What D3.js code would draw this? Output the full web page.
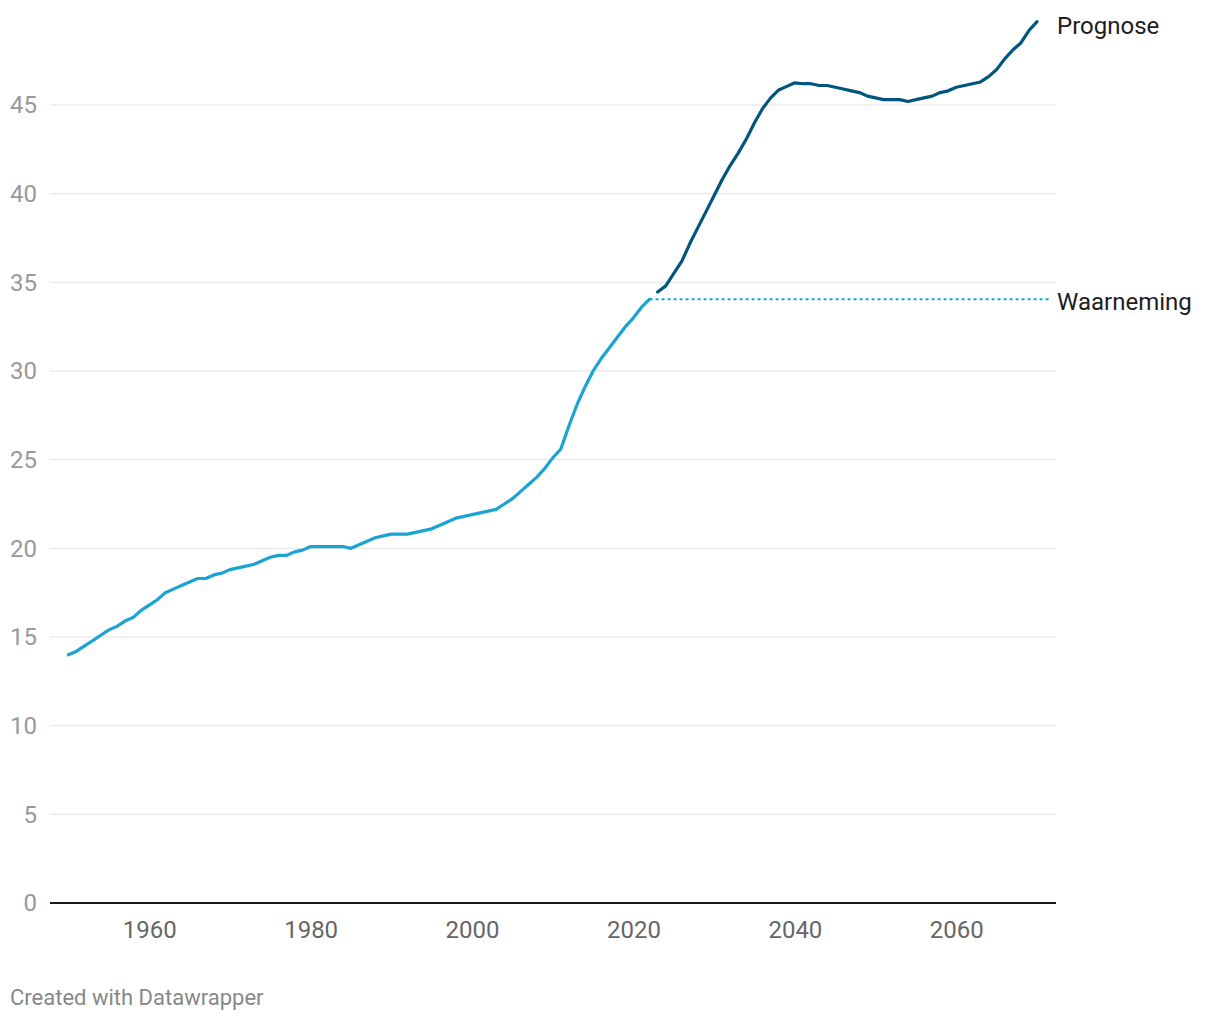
<!DOCTYPE html>
<html><head><meta charset="utf-8">
<script src="https://cdn.jsdelivr.net/npm/d3@7"></script>
<style>
html,body{margin:0;padding:0;background:#fff;}
text{font-family:Roboto,"Noto Sans",sans-serif;}
</style></head>
<body><svg id="c" width="1220" height="1020"></svg>
<script>
const obsYears = d3.range(1950, 2023);
const obsValues = [14.0,14.2,14.5,14.8,15.1,15.4,15.6,15.9,16.1,16.5,
16.8,17.1,17.5,17.7,17.9,18.1,18.3,18.3,18.5,18.6,
18.8,18.9,19.0,19.1,19.3,19.5,19.6,19.6,19.8,19.9,
20.1,20.1,20.1,20.1,20.1,20.0,20.2,20.4,20.6,20.7,
20.8,20.8,20.8,20.9,21.0,21.1,21.3,21.5,21.7,21.8,
21.9,22.0,22.1,22.2,22.5,22.8,23.2,23.6,24.0,24.5,
25.1,25.6,26.9,28.1,29.1,30.0,30.7,31.3,31.9,32.5,
33.0,33.6,34.05];
const progYears = d3.range(2023, 2071);
const progValues = [34.45,34.8,35.5,36.2,37.2,38.1,39.0,39.9,40.8,41.6,
42.3,43.1,44.0,44.8,45.4,45.85,46.05,46.25,46.2,46.2,
46.1,46.1,46.0,45.9,45.8,45.7,45.5,45.4,45.3,45.3,
45.3,45.2,45.3,45.4,45.5,45.7,45.8,46.0,46.1,46.2,
46.3,46.6,47.0,47.6,48.1,48.5,49.2,49.7];
const yTicks = [0,5,10,15,20,25,30,35,40,45];
const xTicks = [1960,1980,2000,2020,2040,2060];
const labels = {obs: "Waarneming", prog: "Prognose"};
const footer = "Created with Datawrapper";

const svg = d3.select("#c");
const left = 50, right = 1056;
const x = d3.scaleLinear().domain([1950, 2070]).range([68.5, 1037]);
const y = d3.scaleLinear().domain([0, 45]).range([903, 105]);

// gridlines
svg.append("g").selectAll("line").data(yTicks.filter(d=>d>0)).join("line")
  .attr("x1", left).attr("x2", right)
  .attr("y1", d=>y(d)).attr("y2", d=>y(d))
  .attr("stroke", "#e2e2e2").attr("stroke-width", 1);

// y labels
svg.append("g").selectAll("text").data(yTicks).join("text")
  .attr("x", 37).attr("y", d=>y(d)).attr("dy", "0.35em")
  .attr("text-anchor", "end").attr("fill", "#999")
  .style("font-size", "24px").text(d=>d);

// x axis
const xAxis = d3.axisBottom(x).tickValues(xTicks).tickSize(0).tickPadding(18).tickFormat(d3.format("d"));
const gx = svg.append("g").attr("transform", `translate(0,${y(0)})`).call(xAxis);
gx.select(".domain").remove();
gx.selectAll("text").attr("fill", "#666").style("font-size", "24px").style("font-family", "Roboto");
svg.append("line").attr("x1", left).attr("x2", right).attr("y1", y(0)).attr("y2", y(0))
  .attr("stroke", "#1a1a1a").attr("stroke-width", 2);

const obs = obsYears.map((d,i)=>({x:d, v:obsValues[i]}));
const prog = progYears.map((d,i)=>({x:d, v:progValues[i]}));
const line = d3.line().x(d=>x(d.x)).y(d=>y(d.v));

const last = obs[obs.length-1];
svg.append("line").attr("x1", x(last.x)).attr("x2", 1050)
  .attr("y1", y(last.v)).attr("y2", y(last.v))
  .attr("stroke", "#1ba3d4").attr("stroke-width", 2).attr("stroke-dasharray", "3,3");

svg.append("path").datum(obs).attr("d", line).attr("fill", "none")
  .attr("stroke", "#1ba3d4").attr("stroke-width", 3.2).attr("stroke-linejoin","round").attr("stroke-linecap","round");
svg.append("path").datum(prog).attr("d", line).attr("fill", "none")
  .attr("stroke", "#02557f").attr("stroke-width", 3.2).attr("stroke-linejoin","round").attr("stroke-linecap","round");

svg.append("text").attr("x", 1057).attr("y", y(last.v)+2).attr("dy","0.35em")
  .attr("fill", "#1d1d1d").style("font-size", "24px").text(labels.obs);
const pl = prog[prog.length-1];
svg.append("text").attr("x", 1057).attr("y", y(pl.v)+4).attr("dy","0.35em")
  .attr("fill", "#1d1d1d").style("font-size", "24px").text(labels.prog);

svg.append("text").attr("x", 10).attr("y", 997).attr("dy","0.35em")
  .attr("fill", "#888").style("font-size", "22px").text(footer);
</script></body></html>
